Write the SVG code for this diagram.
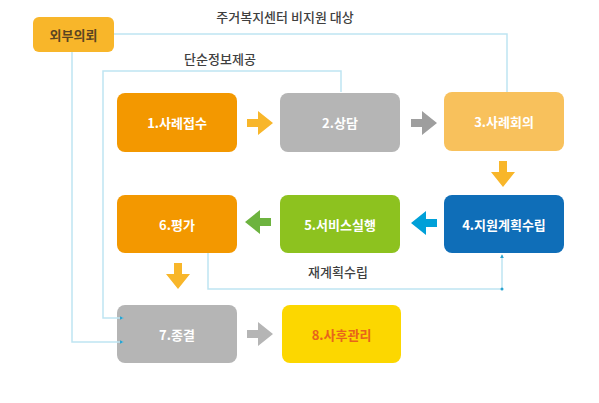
<svg xmlns="http://www.w3.org/2000/svg" width="599" height="403" viewBox="0 0 599 403">
<style>
.nt{font-family:"Noto Sans CJK KR","Noto Sans",sans-serif;font-size:13px;font-weight:bold;fill:#fff;text-anchor:middle;dominant-baseline:central}
.lb{font-family:"Noto Sans CJK KR","Noto Sans",sans-serif;font-size:13px;font-weight:500;fill:#3f3f3f;text-anchor:middle}
.cn{fill:none;stroke:#bfe5f2;stroke-width:1.5}
</style>
<defs>
<path id="blk" d="M0,-4 H11 V-12 L26,0 L11,12 V4 H0 Z"/>
<marker id="mk" viewBox="0 0 6 6" refX="5" refY="3" markerWidth="4" markerHeight="4" orient="auto" markerUnits="userSpaceOnUse">
<path d="M0,0 L6,3 L0,6 Z" fill="#29a3d0"/>
</marker>
</defs>
<rect width="599" height="403" fill="#fff"/>
<g id="n0"><rect x="33" y="17" width="81" height="35" rx="6" fill="#f8b62a"/><text class="nt" x="73.5" y="34.5" style="fill:#5b4522">외부의뢰</text></g>
<g id="n1"><rect x="117" y="93" width="120" height="59" rx="8" fill="#f39800"/><text class="nt" x="177" y="122.5">1.사례접수</text></g>
<g id="n2"><rect x="280" y="93" width="120" height="59" rx="8" fill="#b5b5b5"/><text class="nt" x="340" y="122.5">2.상담</text></g>
<g id="n3"><rect x="444" y="92" width="120" height="59" rx="8" fill="#f8c15c"/><text class="nt" x="504" y="121.5">3.사례회의</text></g>
<g id="n4"><rect x="444" y="195" width="120" height="58" rx="8" fill="#0f6eb8"/><text class="nt" x="504" y="224">4.지원계획수립</text></g>
<g id="n5"><rect x="280" y="195" width="120" height="58" rx="8" fill="#8dc21f"/><text class="nt" x="340" y="224">5.서비스실행</text></g>
<g id="n6"><rect x="117" y="195" width="120" height="58" rx="8" fill="#f39800"/><text class="nt" x="177" y="224">6.평가</text></g>
<g id="n7"><rect x="117" y="305" width="120" height="58" rx="8" fill="#b5b5b5"/><text class="nt" x="177" y="334">7.종결</text></g>
<g id="n8"><rect x="282" y="305" width="119" height="58" rx="8" fill="#fcd700"/><text class="nt" x="341.5" y="334" style="fill:#e8641b">8.사후관리</text></g>
<g id="connectors">
<polyline class="cn" points="114,34 507,34 507,92"/>
<polyline class="cn" points="72,52 72,342 123,342" marker-end="url(#mk)"/>
<polyline class="cn" points="341,92 341,71 103,71 103,318 123,318" marker-end="url(#mk)"/>
<polyline class="cn" points="208,253 208,289 502,289 502,255" marker-end="url(#mk)"/>
<circle cx="502" cy="289" r="1.5" fill="#29a3d0"/>
<use href="#blk" transform="translate(247,123)" fill="#f8b62a"/>
<use href="#blk" transform="translate(411,123)" fill="#9e9e9e"/>
<use href="#blk" transform="translate(503,161) rotate(90)" fill="#f8b62a"/>
<use href="#blk" transform="translate(437,223) rotate(180)" fill="#00a0d8"/>
<use href="#blk" transform="translate(271,222) rotate(180)" fill="#6db33f"/>
<use href="#blk" transform="translate(178,263) rotate(90)" fill="#f8b62a"/>
<use href="#blk" transform="translate(247,334)" fill="#b5b5b5"/>
<text class="lb" x="285" y="22">주거복지센터 비지원 대상</text>
<text class="lb" x="220" y="64">단순정보제공</text>
<text class="lb" x="338" y="277">재계획수립</text>
</g>
</svg>
